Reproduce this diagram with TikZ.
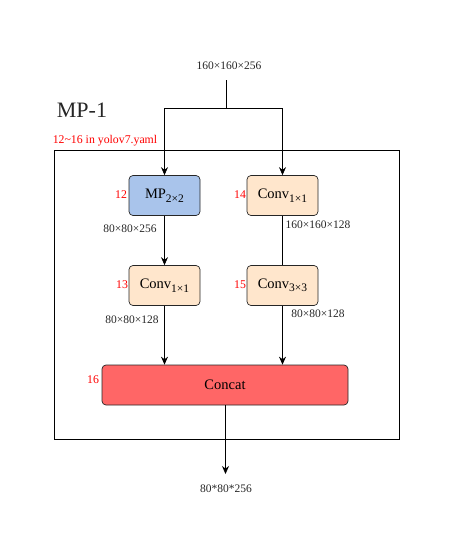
\documentclass[tikz,border=0pt]{standalone}
\usepackage{fontspec}
\setmainfont{Liberation Serif}
\usetikzlibrary{arrows.meta}
\definecolor{mpblue}{HTML}{A9C4EB}
\definecolor{convor}{HTML}{FFE6CC}
\definecolor{concatred}{HTML}{FF6666}
\newcommand{\sbs}[1]{\raisebox{-3.5pt}{\fontsize{11.5}{13}\selectfont #1}}
\begin{document}
\begin{tikzpicture}[x=1pt,y=-1pt,
  blk/.style={draw=black!85, rounded corners=4pt, line width=0.7pt, inner sep=0pt, font=\fontsize{14.5}{16}\selectfont},
  idx/.style={text=red, font=\fontsize{11.8}{13}\selectfont, inner sep=0pt},
  dim/.style={text=black!85, font=\fontsize{11.5}{13}\selectfont, inner sep=0pt},
  arr/.style={-{Stealth[length=8pt,width=7pt]}, line width=0.8pt},
  ln/.style={line width=0.8pt}]
\useasboundingbox (0,0) rectangle (449,555);
\node[draw, line width=0.8pt, minimum width=345pt, minimum height=289pt, anchor=north west, inner sep=0pt] (outer) at (54,150) {};
\node[font=\fontsize{22}{24}\selectfont, text=black!85, inner sep=0pt] (title) at (82,110) {MP-1};
\node[idx] (yaml) at (105,141) {12\textasciitilde16 in yolov7.yaml};
\node[dim] (in) at (229,66) {160×160×256};
\node[blk, fill=mpblue, minimum width=71pt, minimum height=40pt] (mp) at (164.5,195.5) {MP\sbs{2×2}};
\node[blk, fill=convor, minimum width=71pt, minimum height=40pt] (c14) at (282.5,195.5) {Conv\sbs{1×1}};
\node[blk, fill=convor, minimum width=71pt, minimum height=40pt] (c13) at (164.5,285.5) {Conv\sbs{1×1}};
\node[blk, fill=convor, minimum width=71pt, minimum height=40pt] (c15) at (282.5,285.5) {Conv\sbs{3×3}};
\node[blk, fill=concatred, minimum width=246pt, minimum height=40pt] (cat) at (225,385) {Concat};
\node[idx] (n12) at (121,195) {12};
\node[idx] (n14) at (240,195) {14};
\node[idx] (n13) at (122,285) {13};
\node[idx] (n15) at (240,285) {15};
\node[idx] (n16) at (93,380) {16};
\node[dim] (d1) at (130,229) {80×80×256};
\node[dim] (d2) at (318,225) {160×160×128};
\node[dim] (d3) at (132,320) {80×80×128};
\node[dim] (d4) at (318,314) {80×80×128};
\node[dim] (out) at (226,489) {80*80*256};
\coordinate (top) at (226,80);
\coordinate (split) at (226,108);
\coordinate (outend) at (225.5,474);
\draw[ln] (top) -- (split);
\draw[arr] (split) -| (mp.north);
\draw[arr] (split) -| (c14.north);
\draw[arr] (mp) -- (c13);
\draw[ln] (c14) -- (c15);
\draw[arr] (c13.south) -- (c13.south |- cat.north);
\draw[arr] (c15.south) -- (c15.south |- cat.north);
\draw[arr] (cat.south -| outend) -- (outend);
\end{tikzpicture}
\end{document}
